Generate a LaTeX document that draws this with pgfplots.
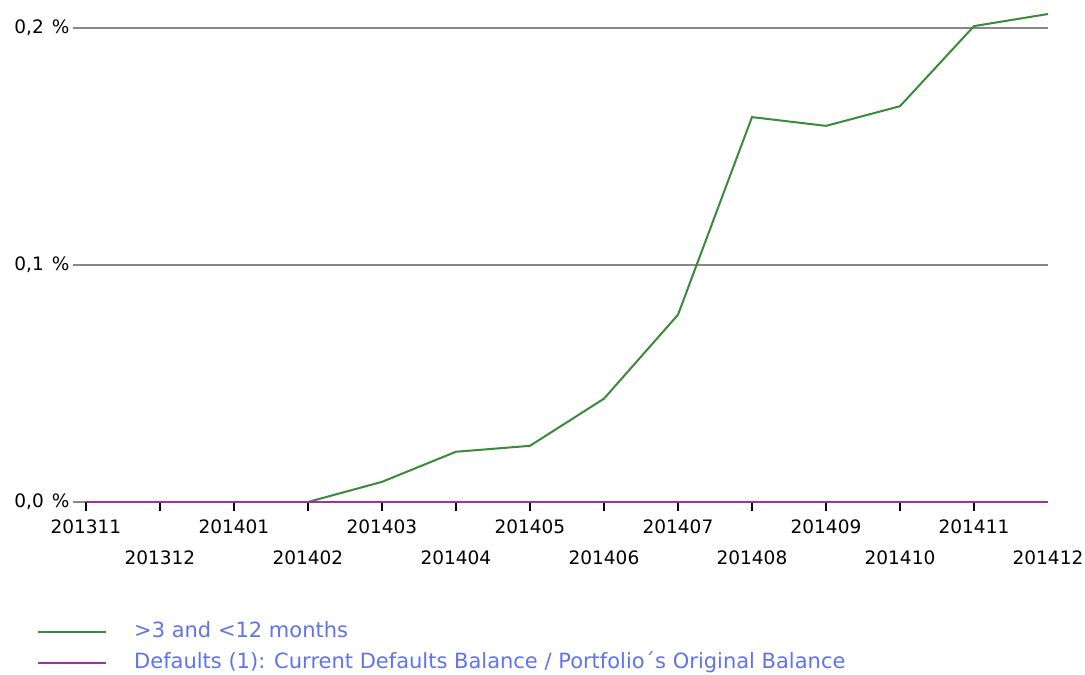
\documentclass[border=0pt]{standalone}
\usepackage{fontspec}
\setmainfont{DejaVu Sans}
\usepackage{pgfplots}
\pgfplotsset{compat=1.18}
\definecolor{gridgray}{HTML}{888888}
\definecolor{lgreen}{HTML}{3A8A3A}
\definecolor{lpurple}{HTML}{A030A8}
\definecolor{legblue}{HTML}{5F73EC}
\begin{document}
\begin{tikzpicture}
\begin{axis}[
  scale only axis, width=975bp, height=474bp,
  xmin=-0.175, xmax=13, ymin=0, ymax=0.2,
  clip=false,
  axis line style={draw=none},
  ymajorgrids, grid style={gridgray, line width=1.8bp},
  ytick={0,0.1,0.2},
  yticklabels={{0,0\hspace{8bp}\%},{0,1\hspace{8bp}\%},{0,2\hspace{8bp}\%}},
  ytick style={draw=none},
  xtick={0,...,12}, xtick pos=bottom, xtick align=outside,
  major tick length=9bp, xtick style={black, line width=1.3bp},
  xticklabels={201311,{},201401,{},201403,{},201405,{},201407,{},201409,{},201411,{}},
  extra x ticks={1,3,5,7,9,11,13},
  extra x tick labels={201312,201402,201404,201406,201408,201410,201412},
  extra x tick style={tick style={draw=none}, xticklabel style={yshift=-31bp}},
  tick label style={font=\fontsize{18.5bp}{22bp}\selectfont, black},
  xticklabel style={yshift=-5bp},
  legend style={at={(0,0)}, anchor=north west, xshift=-36bp, yshift=-120bp,
    draw=none, fill=none, inner sep=0pt, row sep=12bp,
    font=\fontsize{21bp}{24bp}\selectfont,
    nodes={inner sep=0pt, text height=15bp, text depth=4bp},
    cells={anchor=west},
    /tikz/every odd column/.style={column sep=27bp}},
  legend image code/.code={\draw[#1, line width=2bp] (0bp,0bp) -- (68bp,0bp);},
]
\addplot[color=lgreen, line width=2bp] coordinates {
  (3,0) (4,0.0085) (5,0.0212) (6,0.0237) (7,0.0436) (8,0.079)
  (9,0.1624) (10,0.1587) (11,0.167) (12,0.2008) (13,0.2059)};
\addlegendentry{\textcolor{legblue}{>3 and <12 months}}
\addplot[color=lpurple, line width=2bp] coordinates {
  (0,0) (1,0) (2,0) (3,0) (4,0) (5,0) (6,0) (7,0) (8,0) (9,0) (10,0) (11,0) (12,0) (13,0)};
\addlegendentry{\textcolor{legblue}{Defaults (1): Current Defaults Balance / Portfolio´s Original Balance}}
\end{axis}
\pgfresetboundingbox
\path (-73bp,-173bp) rectangle (1012bp,502bp);
\end{tikzpicture}
\end{document}
